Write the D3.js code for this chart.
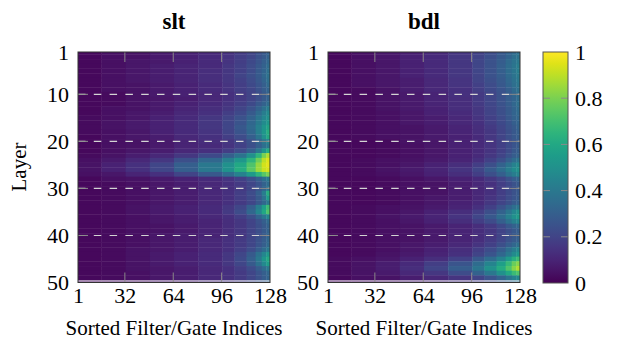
<!DOCTYPE html>
<html lang="en">
<head>
<meta charset="UTF-8">
<title>slt / bdl heatmaps</title>
<script src="https://d3js.org/d3.v7.min.js"></script>
<style>
  body { margin: 0; background: #fff; }
  svg { display: block; }
  svg text { font-family: "Liberation Serif", "Times New Roman", serif !important; }
</style>
</head>
<body>
<svg id="chart" width="621" height="340"></svg>
<script>
// --- data ---
const panelTitles = ["slt", "bdl"];
const xTickValues = [1, 32, 64, 96, 128];
const yTickValues = [1, 10, 20, 30, 40, 50];
const gridValues = [10, 20, 30, 40];
const colorTickValues = [0, 0.2, 0.4, 0.6, 0.8, 1];

// column groups (sorted filter/gate indices) used for each cell block
const binStarts = [1, 17, 33, 49, 65, 81, 97, 105, 113, 119, 123, 126];
const binEnds   = [16, 32, 48, 64, 80, 96, 104, 112, 118, 122, 125, 128];

// one row per layer (1..50), one value per column group
const sltValues = [
  [0.02,0.04,0.05,0.07,0.09,0.11,0.14,0.17,0.20,0.24,0.27,0.30],
  [0.02,0.04,0.05,0.07,0.09,0.12,0.15,0.18,0.21,0.25,0.28,0.31],
  [0.02,0.04,0.06,0.07,0.09,0.12,0.15,0.18,0.22,0.26,0.30,0.33],
  [0.02,0.04,0.06,0.08,0.10,0.12,0.16,0.19,0.23,0.27,0.31,0.35],
  [0.02,0.04,0.06,0.08,0.10,0.13,0.16,0.19,0.23,0.28,0.32,0.36],
  [0.02,0.04,0.06,0.08,0.10,0.13,0.16,0.20,0.24,0.28,0.33,0.37],
  [0.02,0.04,0.06,0.08,0.10,0.13,0.16,0.19,0.23,0.27,0.32,0.36],
  [0.02,0.04,0.05,0.07,0.09,0.12,0.15,0.18,0.22,0.26,0.30,0.34],
  [0.02,0.04,0.05,0.07,0.09,0.12,0.15,0.18,0.21,0.25,0.29,0.32],
  [0.02,0.03,0.05,0.07,0.09,0.11,0.14,0.17,0.20,0.24,0.28,0.31],
  [0.02,0.03,0.05,0.06,0.08,0.11,0.14,0.17,0.20,0.24,0.28,0.31],
  [0.02,0.03,0.05,0.07,0.09,0.12,0.15,0.18,0.22,0.27,0.31,0.35],
  [0.02,0.04,0.05,0.07,0.10,0.13,0.16,0.20,0.25,0.31,0.37,0.42],
  [0.02,0.04,0.06,0.08,0.11,0.14,0.18,0.22,0.28,0.35,0.42,0.47],
  [0.03,0.04,0.06,0.09,0.12,0.16,0.20,0.25,0.31,0.39,0.46,0.50],
  [0.03,0.05,0.07,0.09,0.12,0.16,0.21,0.26,0.33,0.41,0.48,0.53],
  [0.03,0.05,0.07,0.09,0.12,0.16,0.21,0.27,0.34,0.43,0.52,0.58],
  [0.03,0.04,0.06,0.09,0.12,0.15,0.20,0.26,0.33,0.43,0.53,0.62],
  [0.02,0.04,0.06,0.08,0.11,0.14,0.18,0.23,0.30,0.39,0.50,0.60],
  [0.02,0.04,0.05,0.07,0.10,0.13,0.16,0.20,0.25,0.32,0.40,0.45],
  [0.02,0.04,0.05,0.07,0.10,0.12,0.15,0.19,0.24,0.30,0.36,0.40],
  [0.02,0.04,0.06,0.08,0.11,0.14,0.18,0.23,0.30,0.40,0.52,0.62],
  [0.03,0.05,0.08,0.11,0.16,0.22,0.30,0.38,0.50,0.65,0.80,0.88],
  [0.04,0.07,0.11,0.16,0.24,0.33,0.43,0.53,0.65,0.78,0.90,0.95],
  [0.05,0.09,0.14,0.21,0.30,0.40,0.50,0.60,0.72,0.84,0.93,0.96],
  [0.05,0.09,0.14,0.21,0.30,0.40,0.51,0.62,0.74,0.85,0.92,0.94],
  [0.04,0.06,0.10,0.14,0.20,0.27,0.35,0.44,0.54,0.65,0.74,0.80],
  [0.02,0.04,0.05,0.07,0.09,0.12,0.15,0.19,0.24,0.30,0.36,0.40],
  [0.02,0.03,0.04,0.06,0.08,0.11,0.14,0.17,0.21,0.26,0.31,0.35],
  [0.02,0.03,0.04,0.06,0.08,0.11,0.14,0.17,0.21,0.26,0.32,0.38],
  [0.02,0.03,0.04,0.06,0.08,0.11,0.14,0.18,0.23,0.30,0.42,0.62],
  [0.02,0.03,0.04,0.06,0.08,0.11,0.14,0.18,0.22,0.28,0.38,0.55],
  [0.02,0.03,0.04,0.06,0.08,0.11,0.14,0.17,0.21,0.27,0.33,0.40],
  [0.02,0.03,0.05,0.07,0.09,0.12,0.16,0.21,0.30,0.42,0.56,0.68],
  [0.02,0.03,0.05,0.07,0.09,0.12,0.17,0.23,0.33,0.46,0.60,0.72],
  [0.02,0.03,0.04,0.06,0.08,0.11,0.14,0.18,0.24,0.32,0.40,0.46],
  [0.02,0.03,0.04,0.06,0.08,0.10,0.13,0.16,0.20,0.25,0.30,0.34],
  [0.02,0.03,0.04,0.05,0.07,0.10,0.13,0.16,0.20,0.24,0.28,0.31],
  [0.02,0.03,0.04,0.05,0.07,0.10,0.13,0.16,0.20,0.24,0.28,0.31],
  [0.02,0.03,0.04,0.06,0.08,0.10,0.13,0.16,0.20,0.24,0.28,0.32],
  [0.02,0.03,0.04,0.06,0.08,0.11,0.14,0.17,0.21,0.25,0.29,0.33],
  [0.02,0.03,0.04,0.06,0.08,0.11,0.14,0.17,0.21,0.26,0.30,0.34],
  [0.02,0.03,0.05,0.06,0.08,0.11,0.14,0.18,0.23,0.29,0.35,0.40],
  [0.02,0.03,0.05,0.07,0.09,0.12,0.16,0.21,0.28,0.37,0.46,0.53],
  [0.02,0.03,0.05,0.07,0.09,0.12,0.16,0.22,0.30,0.40,0.52,0.60],
  [0.02,0.03,0.05,0.07,0.09,0.12,0.16,0.21,0.28,0.37,0.47,0.55],
  [0.02,0.03,0.05,0.06,0.08,0.11,0.14,0.18,0.23,0.29,0.35,0.40],
  [0.02,0.03,0.04,0.06,0.08,0.11,0.14,0.17,0.21,0.26,0.30,0.33],
  [0.02,0.03,0.04,0.06,0.08,0.11,0.14,0.17,0.21,0.25,0.29,0.32],
  [0.02,0.03,0.04,0.06,0.08,0.11,0.14,0.17,0.21,0.25,0.28,0.31]
];

const bdlValues = [
  [0.02,0.04,0.06,0.08,0.11,0.15,0.19,0.23,0.27,0.31,0.34,0.36],
  [0.02,0.04,0.06,0.09,0.12,0.16,0.20,0.24,0.28,0.32,0.36,0.38],
  [0.02,0.04,0.06,0.09,0.12,0.16,0.21,0.25,0.29,0.34,0.38,0.40],
  [0.02,0.04,0.06,0.09,0.12,0.16,0.21,0.25,0.30,0.35,0.39,0.42],
  [0.02,0.04,0.06,0.09,0.12,0.16,0.21,0.25,0.30,0.35,0.39,0.42],
  [0.02,0.04,0.06,0.09,0.12,0.16,0.20,0.25,0.29,0.34,0.38,0.41],
  [0.02,0.04,0.06,0.08,0.11,0.15,0.20,0.24,0.28,0.33,0.37,0.40],
  [0.02,0.04,0.06,0.08,0.11,0.15,0.19,0.23,0.27,0.32,0.36,0.39],
  [0.02,0.03,0.05,0.08,0.11,0.14,0.18,0.22,0.26,0.30,0.34,0.37],
  [0.02,0.03,0.05,0.07,0.10,0.14,0.17,0.21,0.25,0.29,0.33,0.35],
  [0.02,0.03,0.05,0.07,0.10,0.13,0.17,0.21,0.25,0.29,0.32,0.35],
  [0.02,0.03,0.05,0.07,0.10,0.13,0.17,0.21,0.25,0.29,0.33,0.36],
  [0.02,0.03,0.05,0.07,0.09,0.13,0.16,0.20,0.24,0.28,0.32,0.35],
  [0.02,0.03,0.04,0.06,0.09,0.12,0.16,0.20,0.24,0.28,0.32,0.34],
  [0.02,0.03,0.04,0.06,0.08,0.11,0.15,0.19,0.23,0.27,0.31,0.33],
  [0.02,0.03,0.04,0.06,0.08,0.11,0.14,0.18,0.22,0.26,0.30,0.32],
  [0.02,0.03,0.04,0.05,0.07,0.10,0.13,0.17,0.21,0.25,0.28,0.31],
  [0.02,0.03,0.04,0.05,0.07,0.10,0.13,0.16,0.20,0.24,0.27,0.30],
  [0.02,0.03,0.04,0.05,0.07,0.09,0.12,0.16,0.20,0.24,0.27,0.29],
  [0.02,0.02,0.03,0.05,0.06,0.09,0.12,0.15,0.19,0.23,0.26,0.28],
  [0.02,0.02,0.03,0.04,0.06,0.09,0.12,0.15,0.19,0.23,0.26,0.28],
  [0.02,0.02,0.03,0.04,0.06,0.09,0.12,0.15,0.19,0.23,0.27,0.29],
  [0.02,0.02,0.03,0.04,0.06,0.09,0.12,0.16,0.20,0.25,0.29,0.31],
  [0.02,0.03,0.04,0.05,0.07,0.10,0.14,0.19,0.24,0.30,0.35,0.38],
  [0.02,0.03,0.04,0.06,0.09,0.13,0.18,0.24,0.31,0.38,0.44,0.47],
  [0.02,0.03,0.05,0.07,0.10,0.15,0.21,0.28,0.35,0.42,0.48,0.50],
  [0.02,0.03,0.04,0.06,0.09,0.13,0.18,0.24,0.30,0.37,0.42,0.45],
  [0.02,0.02,0.03,0.04,0.06,0.09,0.12,0.16,0.20,0.25,0.29,0.31],
  [0.02,0.02,0.03,0.04,0.05,0.08,0.11,0.14,0.18,0.22,0.25,0.27],
  [0.02,0.02,0.03,0.04,0.05,0.08,0.11,0.14,0.18,0.22,0.25,0.27],
  [0.02,0.02,0.03,0.04,0.05,0.08,0.11,0.14,0.18,0.22,0.25,0.27],
  [0.02,0.02,0.03,0.04,0.06,0.08,0.11,0.15,0.19,0.23,0.26,0.28],
  [0.02,0.02,0.03,0.04,0.06,0.09,0.12,0.16,0.20,0.24,0.28,0.30],
  [0.02,0.03,0.04,0.05,0.07,0.10,0.14,0.19,0.25,0.31,0.36,0.39],
  [0.02,0.03,0.04,0.06,0.09,0.13,0.18,0.24,0.31,0.39,0.46,0.50],
  [0.02,0.03,0.05,0.07,0.10,0.15,0.21,0.27,0.35,0.43,0.50,0.54],
  [0.02,0.03,0.04,0.06,0.09,0.13,0.18,0.23,0.30,0.37,0.43,0.46],
  [0.02,0.03,0.04,0.05,0.07,0.10,0.13,0.17,0.22,0.27,0.31,0.33],
  [0.02,0.03,0.04,0.05,0.07,0.10,0.13,0.16,0.20,0.24,0.27,0.29],
  [0.02,0.03,0.04,0.05,0.07,0.10,0.13,0.16,0.20,0.24,0.27,0.29],
  [0.02,0.03,0.04,0.05,0.07,0.10,0.13,0.17,0.21,0.25,0.28,0.30],
  [0.02,0.03,0.04,0.06,0.08,0.11,0.15,0.19,0.24,0.29,0.33,0.36],
  [0.02,0.03,0.04,0.06,0.09,0.13,0.18,0.23,0.29,0.36,0.42,0.46],
  [0.02,0.03,0.05,0.07,0.10,0.14,0.20,0.26,0.33,0.41,0.48,0.52],
  [0.03,0.04,0.06,0.09,0.13,0.19,0.27,0.35,0.44,0.54,0.63,0.68],
  [0.03,0.05,0.08,0.12,0.18,0.26,0.35,0.45,0.56,0.67,0.77,0.82],
  [0.03,0.05,0.08,0.13,0.20,0.29,0.39,0.50,0.61,0.72,0.82,0.88],
  [0.03,0.05,0.07,0.11,0.16,0.23,0.31,0.40,0.50,0.60,0.68,0.72],
  [0.02,0.04,0.05,0.08,0.11,0.15,0.20,0.26,0.32,0.39,0.44,0.47],
  [0.02,0.03,0.05,0.07,0.10,0.13,0.17,0.22,0.27,0.32,0.36,0.38]
];

// --- layout ---
const svg = d3.select("#chart");
const plotTop = 52, plotBottom = 282.5;
const panelLefts = [78, 328];
const panelWidth = 192;
const tickColor = "#8a8a8a";
const tickFont = 22;
const serif = "'Liberation Serif', 'Times New Roman', serif";

const y = d3.scaleLinear().domain([1, 50]).range([plotTop, plotBottom]);
const color = d3.scaleSequential(d3.interpolateViridis).domain([0, 1]);

const defs = svg.append("defs");

[sltValues, bdlValues].forEach((values, i) => {
  const left = panelLefts[i], right = left + panelWidth;
  const x = d3.scaleLinear().domain([1, 128]).range([left, right]);

  defs.append("clipPath").attr("id", "clip" + i)
    .append("rect")
    .attr("x", left).attr("y", plotTop)
    .attr("width", panelWidth).attr("height", plotBottom - plotTop);

  // cells
  const cells = [];
  values.forEach((row, r) => row.forEach((v, b) => cells.push({ layer: r + 1, bin: b, v })));

  svg.append("g")
    .attr("clip-path", `url(#clip${i})`)
    .selectAll("rect")
    .data(cells)
    .join("rect")
    .attr("x", d => x(binStarts[d.bin] - 0.5))
    .attr("width", d => x(binEnds[d.bin] + 0.5) - x(binStarts[d.bin] - 0.5) + 0.4)
    .attr("y", d => y(d.layer - 0.5))
    .attr("height", d => y(d.layer + 0.5) - y(d.layer - 0.5) + 0.4)
    .attr("fill", d => color(d.v));

  // thin white strip along the bottom edge
  svg.append("line")
    .attr("x1", left).attr("x2", right)
    .attr("y1", plotBottom - 1.5).attr("y2", plotBottom - 1.5)
    .attr("stroke", "#fff").attr("stroke-width", 1.2);

  // dashed horizontal grid
  svg.append("g").selectAll("line")
    .data(gridValues)
    .join("line")
    .attr("x1", left).attr("x2", right)
    .attr("y1", d => y(d)).attr("y2", d => y(d))
    .attr("stroke", "#d4d4d4")
    .attr("stroke-width", 1.1)
    .attr("stroke-dasharray", "7.5,8.3");

  // inner ticks on all four sides
  const tickLen = 10;
  const innerX = xTickValues.slice(1, -1);
  const tk = svg.append("g").attr("stroke", tickColor).attr("stroke-width", 1);
  tk.selectAll(".tt").data(innerX).join("line").attr("class", "tt")
    .attr("x1", d => x(d)).attr("x2", d => x(d))
    .attr("y1", plotTop).attr("y2", plotTop + tickLen);
  tk.selectAll(".tb").data(innerX).join("line").attr("class", "tb")
    .attr("x1", d => x(d)).attr("x2", d => x(d))
    .attr("y1", plotBottom).attr("y2", plotBottom - tickLen);
  tk.selectAll(".tl").data(gridValues).join("line").attr("class", "tl")
    .attr("x1", left).attr("x2", left + tickLen)
    .attr("y1", d => y(d)).attr("y2", d => y(d));
  tk.selectAll(".tr").data(gridValues).join("line").attr("class", "tr")
    .attr("x1", right).attr("x2", right - tickLen)
    .attr("y1", d => y(d)).attr("y2", d => y(d));

  // frame
  svg.append("rect")
    .attr("x", left).attr("y", plotTop)
    .attr("width", panelWidth).attr("height", plotBottom - plotTop)
    .attr("fill", "none").attr("stroke", "#333").attr("stroke-width", 1);

  // x axis labels
  const xAxis = svg.append("g")
    .attr("transform", `translate(0,${plotBottom})`)
    .call(d3.axisBottom(x).tickValues(xTickValues).tickSize(0).tickPadding(5));
  xAxis.select(".domain").remove();
  xAxis.attr("font-family", null);
  xAxis.selectAll("text")
    .style("font-family", serif)
    .attr("font-size", tickFont)
    .attr("fill", "#000");

  // y axis labels
  const yAxis = svg.append("g")
    .attr("transform", `translate(${left},0)`)
    .call(d3.axisLeft(y).tickValues(yTickValues).tickSize(0).tickPadding(9));
  yAxis.select(".domain").remove();
  yAxis.attr("font-family", null);
  yAxis.selectAll("text")
    .style("font-family", serif)
    .attr("font-size", tickFont)
    .attr("fill", "#000");

  // title
  svg.append("text")
    .attr("x", (left + right) / 2).attr("y", 29)
    .attr("text-anchor", "middle")
    .attr("font-weight", "bold")
    .attr("font-size", 23)
    .style("font-family", serif)
    .text(panelTitles[i]);

  // x axis title
  svg.append("text")
    .attr("x", (left + right) / 2).attr("y", 335)
    .attr("text-anchor", "middle")
    .attr("font-size", 21)
    .style("font-family", serif)
    .text("Sorted Filter/Gate Indices");
});

// y axis title
svg.append("text")
  .attr("transform", "translate(26,167) rotate(-90)")
  .attr("text-anchor", "middle")
  .attr("font-size", 21)
  .style("font-family", serif)
  .text("Layer");

// --- colorbar ---
const cbLeft = 543, cbWidth = 25;
const cbY = d3.scaleLinear().domain([0, 1]).range([plotBottom + 0.5, plotTop]);

const grad = defs.append("linearGradient")
  .attr("id", "viridisGrad")
  .attr("x1", 0).attr("y1", 1).attr("x2", 0).attr("y2", 0);
grad.selectAll("stop")
  .data(d3.range(0, 1.0001, 0.05))
  .join("stop")
  .attr("offset", d => d)
  .attr("stop-color", d => color(d));

svg.append("rect")
  .attr("x", cbLeft).attr("y", cbY(1))
  .attr("width", cbWidth).attr("height", cbY(0) - cbY(1))
  .attr("fill", "url(#viridisGrad)");

const cbTicks = colorTickValues.slice(1, -1);
svg.append("g").attr("stroke", tickColor).attr("stroke-width", 1)
  .selectAll("path").data(cbTicks).join("path")
  .attr("d", d => `M${cbLeft},${cbY(d)}h7M${cbLeft + cbWidth},${cbY(d)}h-7`);

svg.append("rect")
  .attr("x", cbLeft).attr("y", cbY(1))
  .attr("width", cbWidth).attr("height", cbY(0) - cbY(1))
  .attr("fill", "none").attr("stroke", "#555").attr("stroke-width", 1);

const cAxis = svg.append("g")
  .attr("transform", `translate(${cbLeft + cbWidth},0)`)
  .call(d3.axisRight(cbY).tickValues(colorTickValues).tickSize(0).tickPadding(7)
    .tickFormat(d => d3.format("~g")(d)));
cAxis.select(".domain").remove();
cAxis.attr("font-family", null);
cAxis.selectAll("text")
  .style("font-family", serif)
  .attr("font-size", tickFont)
  .attr("fill", "#000");
</script>
</body>
</html>
